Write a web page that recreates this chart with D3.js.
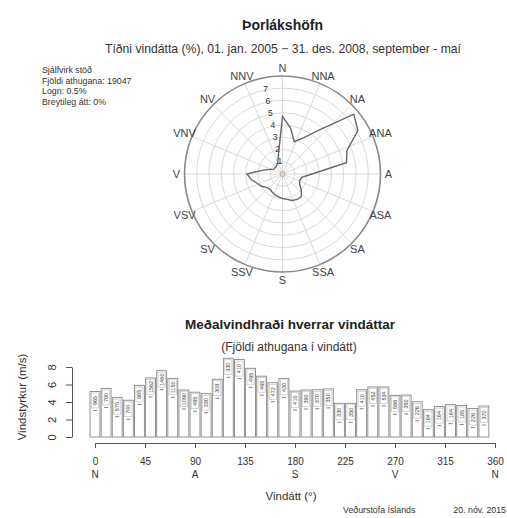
<!DOCTYPE html>
<html><head><meta charset="utf-8">
<script src="https://cdn.jsdelivr.net/npm/d3@7"></script>
<style>body{margin:0;background:#fff}svg{display:block}text{font-family:"Liberation Sans",Arial,sans-serif}</style>
</head><body>
<svg id="c" width="507" height="518"></svg>
<script>
// ---- data ----
const directions = d3.range(0, 360, 10);
const freqPct = [4.7,3.8,2.8,3.4,4.7,7.6,7.1,5.6,5.3,2.4,1.6,1.5,1.6,2.0,2.4,2.4,2.3,2.1,2.0,1.9,1.8,1.7,1.6,1.7,2.0,2.2,2.6,2.9,1.7,1.1,0.8,0.8,0.8,0.9,1.1,1.8];
const meanSpeed = [5.2,5.55,4.5,4.2,5.9,6.75,7.58,6.7,5.37,5.12,4.95,6.6,9.0,8.85,7.85,6.95,6.2,6.7,5.25,5.37,5.4,5.5,3.85,3.85,5.4,5.72,5.72,4.76,4.8,4.03,3.12,3.47,3.7,3.6,3.25,3.54];
const counts = [965,780,575,700,965,1562,1460,1150,1090,495,330,308,330,410,495,495,472,430,410,390,370,350,330,350,410,452,534,596,350,226,164,164,164,185,226,370];
const compassLabels = ["N","NNA","NA","ANA","A","ASA","SA","SSA","S","SSV","SV","VSV","V","VNV","NV","NNV"];
const ringValues = [1,2,3,4,5,6,7];
const yTicks = [0,2,4,6,8];
const xTicks = [0,45,90,135,180,225,270,315,360];
const xLetters = [[0,"N"],[90,"A"],[180,"S"],[270,"V"],[360,"N"]];
const infoLines = ["Sjálfvirk stöð","Fjöldi athugana: 19047","Logn: 0.5%","Breytileg átt: 0%"];

const svg = d3.select("#c");
const ink = "#333";

// titles
svg.append("text").attr("x",282.5).attr("y",30).attr("text-anchor","middle")
  .attr("font-size",14).attr("font-weight","bold").attr("fill","#222").text("Þorlákshöfn");
svg.append("text").attr("x",283).attr("y",52.5).attr("text-anchor","middle")
  .attr("font-size",12.2).attr("fill",ink).text("Tíðni vindátta (%), 01. jan. 2005 − 31. des. 2008, september - maí");
svg.append("g").selectAll("text").data(infoLines).join("text")
  .attr("x",42).attr("y",(d,i)=>73+i*10.5).attr("font-size",8.8).attr("fill",ink).text(d=>d);

// ---- polar ----
const cx = 282.5, cy = 174;
const r = d3.scaleLinear().domain([0,8]).range([0,98]);
const pg = svg.append("g").attr("transform",`translate(${cx},${cy})`);
pg.selectAll("circle.ring").data(ringValues).join("circle").attr("class","ring")
  .attr("r",d=>r(d)).attr("fill","none").attr("stroke","#d0d0d0").attr("stroke-width",0.8);
const spokes = d3.range(16).map(i=>i*22.5);
pg.selectAll("line.sp").data(spokes).join("line").attr("class","sp")
  .attr("x1",0).attr("y1",0)
  .attr("x2",d=>r(8)*Math.sin(d*Math.PI/180)).attr("y2",d=>-r(8)*Math.cos(d*Math.PI/180))
  .attr("stroke","#d0d0d0").attr("stroke-width",0.8);
pg.append("circle").attr("r",r(8)).attr("fill","none").attr("stroke","#888").attr("stroke-width",1.6);
pg.append("circle").attr("r",2.5).attr("fill","none").attr("stroke","#aaa").attr("stroke-width",0.8);
const la = -11.25*Math.PI/180;
pg.selectAll("text.rl").data(ringValues).join("text").attr("class","rl")
  .attr("x",d=>(r(d)+1)*Math.sin(la)).attr("y",d=>-(r(d)+1)*Math.cos(la)+3)
  .attr("text-anchor","middle").attr("font-size",8.5).attr("fill",ink).text(d=>d);
pg.selectAll("text.cl").data(compassLabels).join("text").attr("class","cl")
  .attr("x",(d,i)=>106*Math.sin(i*22.5*Math.PI/180))
  .attr("y",(d,i)=>-106*Math.cos(i*22.5*Math.PI/180)+4)
  .attr("text-anchor","middle").attr("font-size",11).attr("fill","#444").text(d=>d);
const radial = d3.lineRadial().angle(d=>d[0]*Math.PI/180).radius(d=>r(d[1])).curve(d3.curveLinearClosed);
pg.append("path").datum(directions.map((d,i)=>[d,freqPct[i]]))
  .attr("d",radial).attr("fill","none").attr("stroke","#666").attr("stroke-width",1.4);

// ---- bar chart ----
svg.append("text").attr("x",290).attr("y",329).attr("text-anchor","middle")
  .attr("font-size",13.5).attr("font-weight","bold").attr("fill","#222").text("Meðalvindhraði hverrar vindáttar");
svg.append("text").attr("x",289).attr("y",351).attr("text-anchor","middle")
  .attr("font-size",12).attr("fill",ink).text("(Fjöldi athugana í vindátt)");

const x = d3.scaleLinear().domain([0,360]).range([95,495]);
const y = d3.scaleLinear().domain([0,8]).range([437,367]);
const bw = x(10)-x(0);

const bars = svg.append("g");
const bg = bars.selectAll("g").data(directions).join("g");
bg.append("rect")
  .attr("x",d=>x(d)-bw/2+0.6).attr("width",bw-1.2)
  .attr("y",(d,i)=>y(meanSpeed[i])).attr("height",(d,i)=>y(0)-y(meanSpeed[i]))
  .attr("fill","#fff").attr("stroke","#888").attr("stroke-width",0.9);
bg.append("rect")
  .attr("x",d=>x(d)-bw/2+2).attr("width",bw-4)
  .attr("y",(d,i)=>y(meanSpeed[i])+1.5).attr("height",15)
  .attr("fill","none").attr("stroke","#bbb").attr("stroke-width",0.6);
bg.append("text")
  .attr("transform",(d,i)=>`translate(${x(d)+2},${y(meanSpeed[i])+9}) rotate(-90)`)
  .attr("text-anchor","middle").attr("font-size",5.5).attr("fill","#444").text((d,i)=>counts[i]);
bg.append("line")
  .attr("x1",d=>x(d)-2).attr("x2",d=>x(d)+2)
  .attr("y1",(d,i)=>y(meanSpeed[i])+19).attr("y2",(d,i)=>y(meanSpeed[i])+19)
  .attr("stroke","#666").attr("stroke-width",0.8);

// y axis
const yAx = svg.append("g").attr("transform","translate(72,0)")
  .call(d3.axisLeft(y).tickValues(yTicks).tickSize(6).tickSizeOuter(0));
yAx.select(".domain").attr("stroke","#555");
yAx.selectAll(".tick line").attr("stroke","#555");
yAx.selectAll(".tick text").attr("font-size",11).attr("fill",ink)
  .attr("x",0).attr("dy",0).attr("text-anchor","middle")
  .attr("transform","translate(-20,0) rotate(-90)").attr("y",4);
svg.append("text").attr("transform","translate(26,397) rotate(-90)").attr("text-anchor","middle")
  .attr("font-size",11.5).attr("fill",ink).text("Vindstyrkur (m/s)");

// x axis
const xAx = svg.append("g").attr("transform","translate(0,443)")
  .call(d3.axisBottom(x).tickValues(xTicks).tickSize(5).tickSizeOuter(0).tickFormat(d3.format("d")));
xAx.select(".domain").attr("stroke","#555");
xAx.selectAll(".tick line").attr("stroke","#555");
xAx.selectAll(".tick text").attr("font-size",10).attr("fill",ink).attr("y",14.5);
svg.append("g").selectAll("text").data(xLetters).join("text")
  .attr("x",d=>x(d[0])).attr("y",477.5).attr("text-anchor","middle")
  .attr("font-size",10).attr("fill",ink).text(d=>d[1]);
svg.append("text").attr("x",291).attr("y",500).attr("text-anchor","middle")
  .attr("font-size",11.5).attr("fill",ink).text("Vindátt (°)");
svg.append("text").attr("x",343).attr("y",513)
  .attr("font-size",8.8).attr("fill",ink).text("Veðurstofa Íslands");
svg.append("text").attr("x",506).attr("y",513).attr("text-anchor","end")
  .attr("font-size",8.8).attr("fill",ink).text("20. nóv. 2015");
</script>
</body></html>
